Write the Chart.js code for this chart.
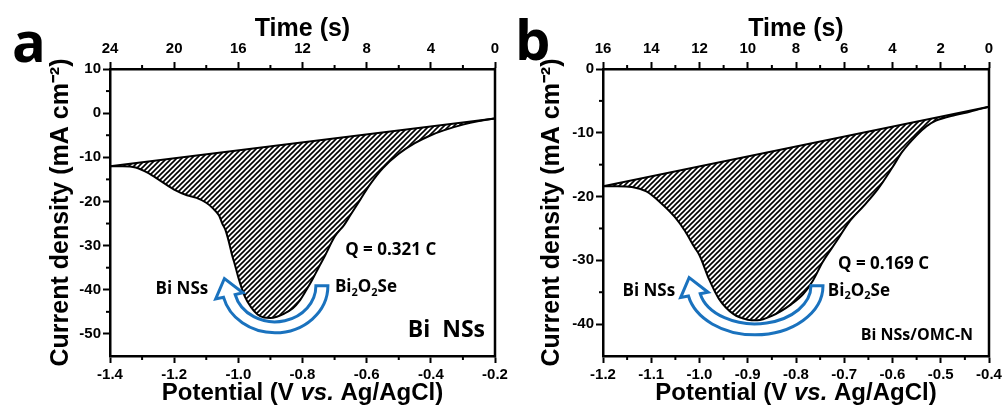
<!DOCTYPE html>
<html>
<head>
<meta charset="utf-8">
<script src="https://cdn.jsdelivr.net/npm/chart.js@4"></script>
<style>
  body { margin: 0; background: #fff; width: 1002px; height: 405px; overflow: hidden; }
  canvas { position: absolute; top: 0; }
  #chartA { left: 0; z-index: 2; }
  #chartB { left: 500px; z-index: 1; }
</style>
</head>
<body>
<canvas id="chartA" width="520" height="405"></canvas>
<canvas id="chartB" width="502" height="405"></canvas>
<script>
// panel a : Bi NSs
const potentialA = [-1.40, -1.36, -1.32, -1.28, -1.26, -1.22, -1.20, -1.16, -1.13, -1.10,
  -1.08, -1.06, -1.05, -1.04, -1.03, -1.02, -1.01, -1.00, -0.98, -0.96,
  -0.94, -0.92, -0.90, -0.88, -0.86, -0.83, -0.81, -0.79, -0.77, -0.75,
  -0.73, -0.70, -0.67, -0.65, -0.62, -0.59, -0.55, -0.50, -0.45, -0.40,
  -0.36, -0.30, -0.25, -0.20];
const currentA = [-12.0, -12.0, -12.3, -13.6, -14.5, -16.4, -17.3, -18.6, -19.2, -20.3,
  -21.5, -23.2, -25.0, -26.5, -29.0, -32.0, -34.5, -37.2, -41.5, -44.0,
  -45.6, -46.3, -46.4, -46.1, -45.5, -44.2, -42.6, -40.3, -37.8, -35.0,
  -32.3, -28.0, -25.3, -23.0, -19.6, -16.2, -12.5, -9.2, -6.8, -5.0,
  -3.9, -2.6, -1.8, -1.2];
const baselinePotA = [-1.4, -0.2];
const baselineCurA = [-12.0, -1.2];
const xTicksA = [-1.4, -1.2, -1.0, -0.8, -0.6, -0.4, -0.2];
const xMinorA = [-1.3, -1.1, -0.9, -0.7, -0.5, -0.3];
const yTicksA = [10, 0, -10, -20, -30, -40, -50];
const yMinorA = [5, -5, -15, -25, -35, -45];
const timeTicksA = [24, 20, 16, 12, 8, 4, 0];
const timeMinorA = [22, 18, 14, 10, 6, 2];

// panel b : Bi NSs/OMC-N
const potentialB = [-1.20, -1.17, -1.14, -1.11, -1.08, -1.05, -1.03, -1.01, -1.00, -0.98,
  -0.96, -0.93, -0.90, -0.88, -0.85, -0.81, -0.785, -0.765, -0.745, -0.715,
  -0.69, -0.66, -0.63, -0.60, -0.58, -0.55, -0.53, -0.51, -0.47, -0.44, -0.40];
const currentB = [-18.4, -18.4, -18.5, -19.2, -21.0, -23.3, -25.4, -28.0, -29.2, -33.0,
  -36.0, -38.4, -39.3, -39.4, -38.7, -36.9, -35.3, -33.2, -30.3, -26.9,
  -24.0, -21.5, -18.8, -15.4, -13.0, -10.4, -9.0, -8.1, -7.2, -6.7, -5.9];
const baselinePotB = [-1.2, -0.4];
const baselineCurB = [-18.4, -5.9];
const xTicksB = [-1.2, -1.1, -1.0, -0.9, -0.8, -0.7, -0.6, -0.5, -0.4];
const xMinorB = [-1.15, -1.05, -0.95, -0.85, -0.75, -0.65, -0.55, -0.45];
const yTicksB = [0, -10, -20, -30, -40];
const yMinorB = [-5, -15, -25, -35];
const timeTicksB = [16, 14, 12, 10, 8, 6, 4, 2, 0];
const timeMinorB = [15, 13, 11, 9, 7, 5, 3, 1];

const SANS = "'Liberation Sans', Arial, sans-serif";
const NOTE = "'Open Sans', 'Liberation Sans', sans-serif";
const BLUE = '#1a72be';

function hatch(ctx) {
  const c = document.createElement('canvas');
  c.width = 5; c.height = 5;
  const g = c.getContext('2d');
  g.strokeStyle = '#000';
  g.lineWidth = 1.6;
  g.beginPath();
  g.moveTo(-1, 6); g.lineTo(6, -1);
  g.moveTo(-1, 1); g.lineTo(1, -1);
  g.moveTo(4, 6); g.lineTo(6, 4);
  g.stroke();
  return ctx.createPattern(c, 'repeat');
}

function plain(t, size) {
  return [[t, 'bold ' + size + 'px ' + NOTE, 0]];
}
function formula(size) {
  const big = 'bold ' + size + 'px ' + NOTE;
  const sub = 'bold ' + Math.round(size * 0.65) + 'px ' + NOTE;
  return [['Bi', big, 0], ['2', sub, 5], ['O', big, 0], ['2', sub, 5], ['Se', big, 0]];
}

function drawRuns(ctx, runs, x, y, align) {
  let w = 0;
  runs.forEach(r => { ctx.font = r[1]; w += ctx.measureText(r[0]).width; });
  let cx = align === 'center' ? x - w / 2 : align === 'right' ? x - w : x;
  runs.forEach(r => {
    ctx.font = r[1];
    ctx.fillText(r[0], cx, y + r[2]);
    cx += ctx.measureText(r[0]).width;
  });
}

function drawArrow(ctx, cx, cy, a) {
  const e = a.end * Math.PI / 180;
  const po = [cx + a.ro[0] * Math.cos(e), cy + a.ro[1] * Math.sin(e)];
  const pi = [cx + a.ri[0] * Math.cos(e), cy + a.ri[1] * Math.sin(e)];
  const len = Math.hypot(po[0] - pi[0], po[1] - pi[1]);
  const u = [(po[0] - pi[0]) / len, (po[1] - pi[1]) / len];
  const mid = [(po[0] + pi[0]) / 2, (po[1] + pi[1]) / 2];
  const rmx = (a.ro[0] + a.ri[0]) / 2, rmy = (a.ro[1] + a.ri[1]) / 2;
  let t = [-rmx * Math.sin(e), rmy * Math.cos(e)];
  const tl = Math.hypot(t[0], t[1]);
  t = [t[0] / tl, t[1] / tl];
  ctx.beginPath();
  ctx.ellipse(cx, cy, a.ro[0], a.ro[1], 0, 0, e, false);
  ctx.lineTo(po[0] + u[0] * a.hw, po[1] + u[1] * a.hw);
  ctx.lineTo(mid[0] + t[0] * a.hl, mid[1] + t[1] * a.hl);
  ctx.lineTo(pi[0] - u[0] * a.hw, pi[1] - u[1] * a.hw);
  ctx.lineTo(pi[0], pi[1]);
  ctx.ellipse(cx, cy, a.ri[0], a.ri[1], 0, e, 0, true);
  ctx.closePath();
  ctx.fillStyle = '#fff';
  ctx.fill();
  ctx.strokeStyle = BLUE;
  ctx.lineWidth = 3;
  ctx.lineJoin = 'miter';
  ctx.stroke();
}

const decor = {
  id: 'decor',
  afterDraw(chart, args, o) {
    const { ctx, chartArea: area, scales } = chart;
    ctx.save();
    // right frame edge
    ctx.strokeStyle = '#000';
    ctx.lineWidth = 2.5;
    ctx.beginPath();
    ctx.moveTo(area.right, area.top - 1.25);
    ctx.lineTo(area.right, area.bottom + 1.25);
    ctx.stroke();
    // minor ticks
    ctx.lineWidth = 2;
    Object.entries(o.minor).forEach(([id, vals]) => {
      const s = scales[id];
      vals.forEach(v => {
        const p = s.getPixelForValue(v);
        ctx.beginPath();
        if (s.position === 'left') { ctx.moveTo(area.left, p); ctx.lineTo(area.left - 4, p); }
        else if (s.position === 'top') { ctx.moveTo(p, area.top); ctx.lineTo(p, area.top - 4); }
        else { ctx.moveTo(p, area.bottom); ctx.lineTo(p, area.bottom + 4); }
        ctx.stroke();
      });
    });
    // arrow
    drawArrow(ctx, scales.x.getPixelForValue(o.arrow.v), scales.y.getPixelForValue(o.arrow.j), o.arrow);
    // notes
    ctx.fillStyle = '#000';
    ctx.textAlign = 'left';
    ctx.textBaseline = 'middle';
    o.notes.forEach(n => {
      drawRuns(ctx, n.runs, scales.x.getPixelForValue(n.v), scales.y.getPixelForValue(n.j), n.align);
    });
    // bottom axis title with italic "vs."
    const f = 'bold 24px ' + SANS;
    drawRuns(ctx, [['Potential (V ', f, 0], ['vs.', 'italic ' + f, 0], [' Ag/AgCl)', f, 0]],
      (area.left + area.right) / 2, 393, 'center');
    // panel letter
    ctx.font = 'bold 56px ' + NOTE;
    ctx.textBaseline = 'alphabetic';
    ctx.fillText(o.letter, o.letterX, o.letterY);
    ctx.restore();
  }
};

const tickFont = { family: SANS, size: 15, weight: 'bold' };
const titleFont = { family: SANS, size: 25, weight: 'bold' };
const gridOpts = { drawOnChartArea: false, drawTicks: true, tickLength: 7, tickColor: '#000', tickWidth: 2 };
const borderOpts = { color: '#000', width: 2.5 };

function buildChart(id, p) {
  const ctx = document.getElementById(id).getContext('2d');
  return new Chart(ctx, {
    type: 'line',
    data: {
      datasets: [
        {
          data: p.pot.map((v, i) => ({ x: v, y: p.cur[i] })),
          borderColor: '#000', borderWidth: 2, pointRadius: 0,
          cubicInterpolationMode: 'monotone',
          fill: '+1', backgroundColor: hatch(ctx)
        },
        {
          data: p.basePot.map((v, i) => ({ x: v, y: p.baseCur[i] })),
          borderColor: '#000', borderWidth: 2, pointRadius: 0, fill: false
        }
      ]
    },
    options: {
      responsive: false,
      animation: false,
      events: [],
      layout: { padding: { left: 0, top: 0, right: p.padRight, bottom: 0 } },
      plugins: {
        legend: { display: false },
        tooltip: { enabled: false },
        decor: p.decor
      },
      scales: {
        x: {
          type: 'linear', position: 'bottom', min: p.xMin, max: p.xMax,
          afterBuildTicks: s => { s.ticks = p.xTicks.map(v => ({ value: v })); },
          afterFit: s => { s.height = 49; s.paddingLeft = 0; s.paddingRight = 0; },
          ticks: { color: '#000', font: tickFont, padding: 3, maxRotation: 0, autoSkip: false,
            callback: v => v.toFixed(1) },
          grid: gridOpts, border: borderOpts
        },
        xTop: {
          type: 'linear', position: 'top', min: 0, max: p.tMax, reverse: true,
          afterBuildTicks: s => { s.ticks = p.tTicks.map(v => ({ value: v })); },
          afterFit: s => { s.height = 69; s.paddingLeft = 0; s.paddingRight = 0; },
          ticks: { color: '#000', font: tickFont, padding: 4, maxRotation: 0, autoSkip: false },
          grid: gridOpts, border: borderOpts,
          title: { display: true, text: 'Time (s)', color: '#000', font: titleFont, padding: { top: 14, bottom: 0 } }
        },
        y: {
          type: 'linear', position: 'left', min: p.yMin, max: p.yMax,
          afterBuildTicks: s => { s.ticks = p.yTicks.map(v => ({ value: v })); },
          afterFit: s => { s.width = p.yWidth; s.paddingTop = 0; s.paddingBottom = 0; },
          ticks: { color: '#000', font: tickFont, padding: 2, autoSkip: false },
          grid: gridOpts, border: borderOpts,
          title: { display: true, text: 'Current density (mA cm\u207B\u00B2)', color: '#000', font: titleFont,
            padding: { top: p.yTitlePad, bottom: 0 } }
        }
      }
    },
    plugins: [decor]
  });
}

buildChart('chartA', {
  pot: potentialA, cur: currentA, basePot: baselinePotA, baseCur: baselineCurA,
  xMin: -1.4, xMax: -0.2, yMin: -55, yMax: 10, tMax: 24,
  xTicks: xTicksA, yTicks: yTicksA, tTicks: timeTicksA,
  yWidth: 110, yTitlePad: 46, padRight: 25,
  decor: {
    minor: { x: xMinorA, y: yMinorA, xTop: timeMinorA },
    arrow: { v: -0.886, j: -39.1, ro: [53, 47], ri: [41, 36], end: 166, hw: 8, hl: 18 },
    notes: [
      { runs: plain('Bi NSs', 17), v: -1.176, j: -39.8, align: 'center' },
      { runs: formula(17), v: -0.699, j: -39.5, align: 'left' },
      { runs: plain('Q = 0.321 C', 17), v: -0.667, j: -31.1, align: 'left' },
      { runs: plain('Bi  NSs', 23), v: -0.231, j: -49.3, align: 'right' }
    ],
    letter: 'a', letterX: 12, letterY: 62
  }
});

buildChart('chartB', {
  pot: potentialB, cur: currentB, basePot: baselinePotB, baseCur: baselineCurB,
  xMin: -1.2, xMax: -0.4, yMin: -45, yMax: 0, tMax: 16,
  xTicks: xTicksB, yTicks: yTicksB, tTicks: timeTicksB,
  yWidth: 103, yTitlePad: 37, padRight: 13,
  decor: {
    minor: { x: xMinorB, y: yMinorB, xTop: timeMinorB },
    arrow: { v: -0.885, j: -34.0, ro: [68, 49], ri: [56, 38], end: 168, hw: 8, hl: 18 },
    notes: [
      { runs: plain('Bi NSs', 17), v: -1.105, j: -34.8, align: 'center' },
      { runs: formula(17), v: -0.734, j: -34.8, align: 'left' },
      { runs: plain('Q = 0.169 C', 17), v: -0.713, j: -30.6, align: 'left' },
      { runs: plain('Bi NSs/OMC-N', 16), v: -0.433, j: -41.7, align: 'right' }
    ],
    letter: 'b', letterX: 15, letterY: 60
  }
});
</script>
</body>
</html>
